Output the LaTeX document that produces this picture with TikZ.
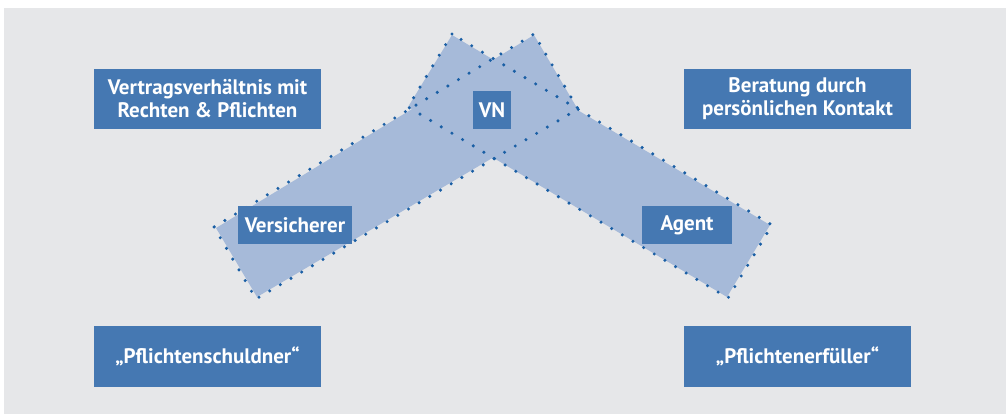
\documentclass[tikz,border=0pt]{standalone}
\usepackage{fontspec}
\setmainfont{PT Sans}
\usepackage{tikz}
\usetikzlibrary{positioning}
\definecolor{bggray}{RGB}{230,231,233}
\definecolor{boxblue}{RGB}{69,120,178}
\definecolor{bandblue}{RGB}{166,186,217}
\definecolor{dotblue}{RGB}{26,95,165}
\tikzset{
    label box/.style={fill=boxblue,text=white,align=center,inner sep=0pt,
        font=\bfseries\fontsize{21}{23}\selectfont},
    band/.style={fill=bandblue},
    band edge/.style={draw=dotblue,line width=3.4pt,line cap=round,
        dash pattern=on 0pt off 12.4pt}
}

\begin{document}
\begin{tikzpicture}[x=1pt,y=-1pt]
    %Background
    \fill[white] (0,0) rectangle (1006,414);
    \fill[bggray] (4,8) rectangle (1006,414);
    \useasboundingbox (0,0) rectangle (1006,414);
    %Bands
    \fill[band] (216,228) -- (257,297) -- (577,108) -- (534,35) -- cycle;
    \fill[band] (452,35) -- (408,107) -- (727,297) -- (770,225) -- cycle;
    \draw[band edge] (214,227) -- (256,299) -- (578,109) -- (534,34) -- cycle;
    \draw[band edge] (452,34) -- (408,107) -- (728,298) -- (772,225) -- cycle;
    %Top boxes
    \node[label box,minimum width=227pt,minimum height=60pt] (vertrag) at (207.5,99) {Vertragsverhältnis mit\\Rechten \& Pflichten};
    \node[label box,minimum width=227pt,minimum height=60pt] (beratung) at (797.5,99) {Beratung durch\\persönlichen Kontakt};
    \node[label box,minimum width=38pt,minimum height=38pt] (vn) at (492,110) {VN};
    %Middle boxes
    \node[label box,minimum width=114pt,minimum height=38pt] (versicherer) at (295,225) {Versicherer};
    \node[label box,minimum width=90pt,minimum height=38pt] (agent) at (687,225) {Agent};
    %Bottom boxes
    \node[label box,minimum width=227pt,minimum height=61pt] (schuldner) at (207.5,356.5) {„Pflichtenschuldner“};
    \node[label box,minimum width=227pt,minimum height=61pt] (erfueller) at (797.5,356.5) {„Pflichtenerfüller“};
\end{tikzpicture}
\end{document}
